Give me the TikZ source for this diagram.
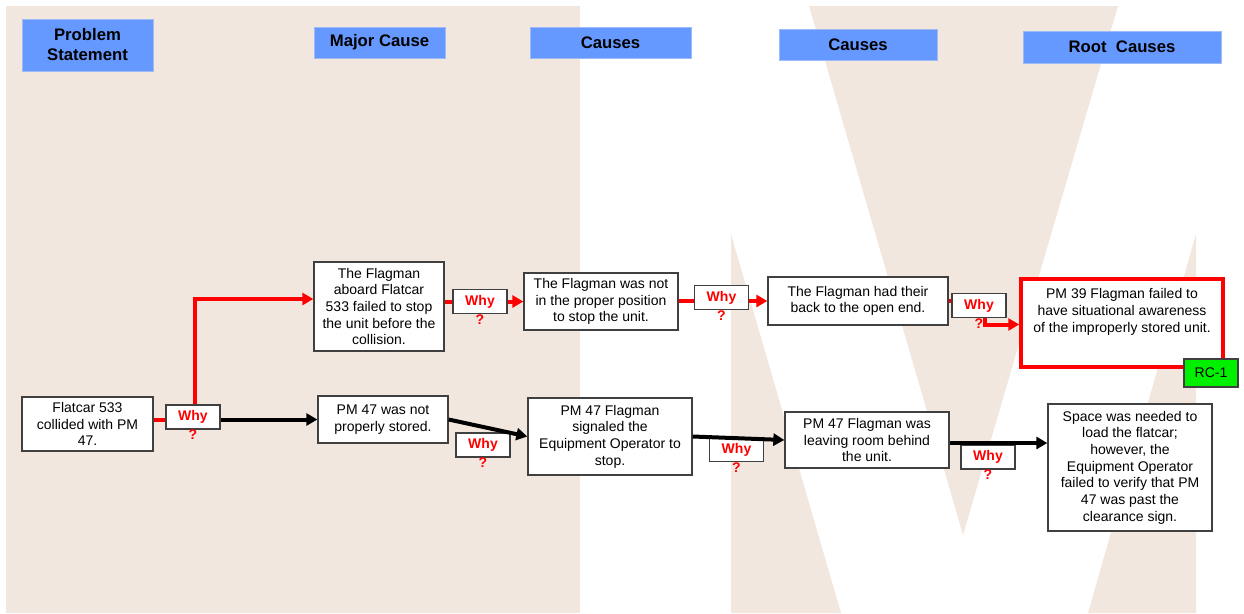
\documentclass[tikz,border=0pt]{standalone}
\usepackage{fontspec}
\setmainfont{Liberation Sans}
\usetikzlibrary{arrows.meta}
\definecolor{beige}{HTML}{F2E7DF}
\definecolor{hdrblue}{HTML}{6699FF}
\definecolor{hdredge}{HTML}{9DBBF7}
\definecolor{boxedge}{HTML}{404040}
\definecolor{rcgreen}{HTML}{00F000}

\begin{document}
\begin{tikzpicture}[x=1pt,y=-1pt,
  header/.style={fill=hdrblue,draw=hdredge,line width=1pt,inner sep=0pt,align=center,
    font=\fontsize{16.7}{20}\selectfont\bfseries},
  cause/.style={fill=white,draw=boxedge,line width=1.3pt,inner sep=0pt,align=center,
    font=\fontsize{14}{16.7}\selectfont},
  why/.style={fill=white,draw=boxedge,line width=1.3pt,inner sep=0pt,minimum width=54,
    minimum height=24,text=red,font=\fontsize{14}{16}\selectfont\bfseries,label={[qmark]below:?}},
  qmark/.style={text=red,inner sep=0pt,font=\fontsize{14}{15}\selectfont\bfseries},
  rootcap/.style={anchor=north,yshift=-8pt,align=center,font=\fontsize{14}{16.7}\selectfont},
  rcbox/.style={fill=rcgreen,draw=boxedge,line width=1.3pt,inner sep=0pt,minimum width=54,
    minimum height=28,font=\fontsize{14}{16}\selectfont},
  redline/.style={red,line width=4pt},
  redarrow/.style={red,line width=4pt,-{Triangle[length=11pt,width=12pt]}},
  blackarrow/.style={black,line width=4pt,-{Triangle[length=11pt,width=12pt]}},
]
\useasboundingbox (0,0) rectangle (1244,613);

% background
\fill[beige] (6,6) rectangle (580,613);
\fill[beige] (809,6) -- (1118,6) -- (963,535) -- cycle;
\fill[beige] (731,234) -- (731,613) -- (841,613) -- cycle;
\fill[beige] (1196,234) -- (1196,613) -- (1088,613) -- cycle;

% column heads
\node[header,minimum width=131,minimum height=52] (probhead) at (87.5,45) {Problem\\Statement};
\node[header,minimum width=131,minimum height=31] (majorhead) at (379.5,42.5) {Major Cause};
\node[header,minimum width=161,minimum height=31] (causehead) at (610.5,42.5) {Causes};
\node[header,minimum width=158,minimum height=31] (causeheadb) at (858,44.5) {Causes};
\node[header,minimum width=198,minimum height=32] (roothead) at (1122,47) {Root~ Causes};

% causes
\node[cause,minimum width=131,minimum height=54] (flatcar) at (87.5,424) {Flatcar 533\\collided with PM\\47.};
\node[cause,minimum width=130,minimum height=89] (aboard) at (379,306.5) {The Flagman\\aboard Flatcar\\533 failed to stop\\the unit before the\\collision.};
\node[cause,minimum width=130,minimum height=47] (stored) at (383,419.5) {PM 47 was not\\properly stored.};
\node[cause,minimum width=154,minimum height=57] (position) at (601,301.5) {The Flagman was not\\in the proper position\\to stop the unit.};
\node[cause,minimum width=180,minimum height=48] (backto) at (858,301) {The Flagman had their\\back to the open end.};
\node[cause,draw=red,line width=3.5pt,minimum width=202,minimum height=88,
  label={[rootcap]north:{PM 39 Flagman failed to\\have situational awareness\\of the improperly stored unit.}}] (awareness) at (1122,323) {};
\node[rcbox] (rcone) at (1211,373) {RC-1};
\node[cause,minimum width=164,minimum height=77] (signaled) at (610,436.5) {PM 47 Flagman\\signaled the\\Equipment Operator to\\stop.};
\node[cause,minimum width=164,minimum height=56] (leaving) at (867,440) {PM 47 Flagman was\\leaving room behind\\the unit.};
\node[cause,minimum width=164,minimum height=127] (space) at (1130,467.5) {Space was needed to\\load the flatcar;\\however, the\\Equipment Operator\\failed to verify that PM\\47 was past the\\clearance sign.};

% why tags
\node[why] (whya) at (193,417) {Why};
\node[why] (whyb) at (480,301.5) {Why};
\node[why] (whyc) at (721.5,297.5) {Why};
\node[why] (whyd) at (979,305.5) {Why};
\node[why] (whye) at (483,445) {Why};
\node[why] (whyf) at (736.5,449.5) {Why};
\node[why] (whyg) at (988,457) {Why};

% red chain
\draw[redline] (flatcar.east |- stored.west) -- (whya.west |- stored.west);
\draw[redarrow] ([xshift=2pt]whya.north) |- ([yshift=7.5pt]aboard.west);
\draw[redline] (aboard.east |- position.west) -- (whyb.west |- position.west);
\draw[redarrow] (whyb.east |- position.west) -- (position.west);
\draw[redline] (position.east |- backto.west) -- (whyc.west |- backto.west);
\draw[redarrow] (whyc.east |- backto.west) -- (backto.west);
\draw[redline] (backto.east) -- (whyd.west |- backto.east);
\draw[redarrow] ([xshift=6pt]whyd.south) |- ([yshift=-1.5pt]awareness.west);

% black chain
\draw[blackarrow] (whya.east |- stored.west) -- (stored.west);
\draw[blackarrow] (stored.east) -- (signaled.west);
\draw[blackarrow] (signaled.east) -- (leaving.west);
\draw[blackarrow] ([yshift=-3pt]leaving.east) -- ([yshift=-3pt]leaving.east -| space.west);
\end{tikzpicture}
\end{document}
